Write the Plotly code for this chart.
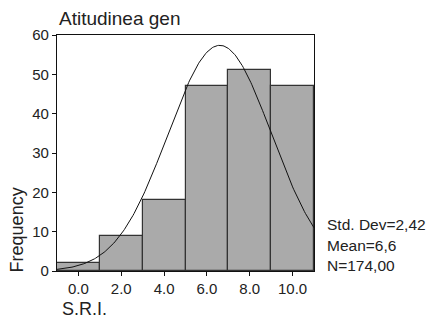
import numpy as np
import plotly.graph_objects as go

# Data
bin_centers = [0, 2, 4, 6, 8, 10]
frequencies = [2, 9, 18, 47, 51, 47]
tick_vals = [0, 2, 4, 6, 8, 10]
tick_text = ["0.0", "2.0", "4.0", "6.0", "8.0", "10.0"]
y_ticks = [0, 10, 20, 30, 40, 50, 60]
std_dev = 2.42
mean = 6.6
n_total = 174
bin_width = 2

# Normal curve implied by the displayed statistics (as drawn by the original chart)
xs = np.linspace(-1, 11, 241)
ys = n_total * bin_width / (std_dev * np.sqrt(2 * np.pi)) * np.exp(-((xs - mean) ** 2) / (2 * std_dev ** 2))

FONT = "Liberation Sans, Arial, sans-serif"
TXT = "#222222"

fig = go.Figure()
fig.add_trace(go.Bar(
    x=bin_centers, y=frequencies, width=bin_width,
    marker=dict(color="#aaaaaa", line=dict(color="#333333", width=1.2)),
    hoverinfo="skip",
))
fig.add_trace(go.Scatter(
    x=xs, y=ys, mode="lines",
    line=dict(color="#111111", width=1),
    hoverinfo="skip",
))

fig.update_layout(
    width=428, height=319,
    margin=dict(l=57, r=114, t=35, b=48),
    paper_bgcolor="white", plot_bgcolor="white",
    showlegend=False,
    bargap=0,
    font=dict(family=FONT, color=TXT, size=15),
    xaxis=dict(
        range=[-1, 11], tickvals=tick_vals, ticktext=tick_text,
        showline=True, linecolor="#111111", linewidth=1.2, mirror=True,
        ticks="outside", ticklen=4, tickcolor="#111111",
        showgrid=False, zeroline=False,
        tickfont=dict(size=15, family=FONT, color=TXT),
    ),
    yaxis=dict(
        range=[0, 60], tickvals=y_ticks,
        showline=True, linecolor="#111111", linewidth=1.2, mirror=True,
        ticks="outside", ticklen=4, tickcolor="#111111",
        showgrid=False, zeroline=False,
        tickfont=dict(size=15, family=FONT, color=TXT),
    ),
)

annots = [
    dict(text="Atitudinea gen", x=0, y=1.072, xanchor="left", yanchor="middle", size=19),
    dict(text="S.R.I.", x=0.012, y=-0.162, xanchor="left", yanchor="middle", size=18),
    dict(text="Std. Dev=2,42", x=1.041, y=0.195, xanchor="left", yanchor="middle", size=15.5),
    dict(text="Mean=6,6", x=1.041, y=0.106, xanchor="left", yanchor="middle", size=15.5),
    dict(text="N=174,00", x=1.041, y=0.025, xanchor="left", yanchor="middle", size=15.5),
]
for a in annots:
    fig.add_annotation(
        text=a["text"], x=a["x"], y=a["y"], xref="paper", yref="paper",
        xanchor=a["xanchor"], yanchor=a["yanchor"], showarrow=False,
        font=dict(family=FONT, size=a["size"], color=TXT),
    )
fig.add_annotation(
    text="Frequency", x=-0.152, y=0.176, xref="paper", yref="paper",
    xanchor="center", yanchor="middle", textangle=-90, showarrow=False,
    font=dict(family=FONT, size=18, color=TXT),
)

fig.write_html(
    "out.html",
    config={"displayModeBar": False},
    post_script="document.body.style.margin='0';document.body.style.overflow='hidden';",
)
